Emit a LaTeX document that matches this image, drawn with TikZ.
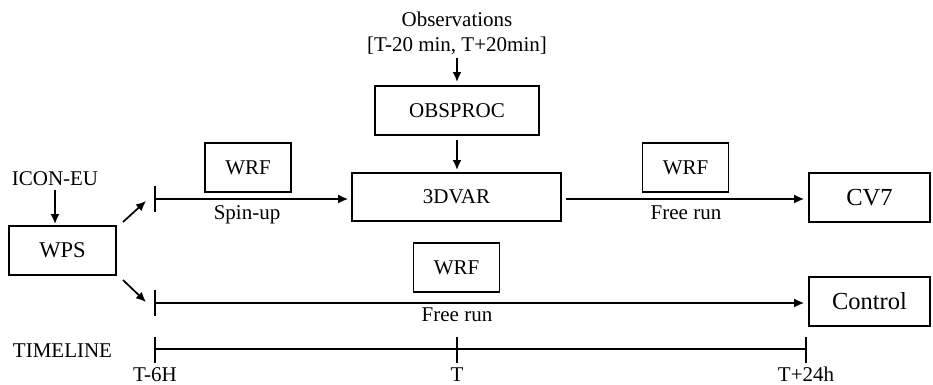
\documentclass[tikz,border=0pt]{standalone}
\usepackage{fontspec}
\setmainfont{Liberation Serif}
\usetikzlibrary{arrows.meta}
\tikzset{
  box/.style={draw, line width=1.7pt, inner sep=0pt, font=\fontsize{21}{25}\selectfont},
  bigbox/.style={box, font=\fontsize{24.5}{28}\selectfont},
  lbl/.style={inner sep=0pt, font=\fontsize{21}{25}\selectfont},
  flow/.style={-{Latex[length=10pt,width=9pt]}, line width=1.7pt},
  tick/.style={line width=1.7pt}
}
\begin{document}
\begin{tikzpicture}[x=1pt,y=-1pt]
\useasboundingbox (0,0) rectangle (933,384);

% inputs and preprocessing
\node[lbl] (icon) at (55,179) {ICON-EU};
\node[box, font=\fontsize{22.5}{26}\selectfont, minimum width=107pt, minimum height=49pt] (wps) at (62.5,250.5) {WPS};
\node[lbl, align=center] (obs) at (457,33) {Observations\\{}[T-20 min, T+20min]};
\node[box, minimum width=164pt, minimum height=49pt] (obsproc) at (457,110.5) {OBSPROC};
\node[box, minimum width=209pt, minimum height=48pt] (var) at (456.5,197) {3DVAR};

% model runs
\node[box, minimum width=86pt, minimum height=49pt] (wrfa) at (248,167.5) {WRF};
\node[box, minimum width=86pt, minimum height=49pt] (wrfb) at (685.5,167.5) {WRF};
\node[box, minimum width=86pt, minimum height=49pt] (wrfc) at (456.5,267.5) {WRF};
\node[bigbox, minimum width=121pt, minimum height=49pt] (cv) at (869.5,197.5) {CV7};
\node[bigbox, minimum width=121pt, minimum height=49pt] (ctrl) at (869.5,301.5) {Control};

\node[lbl, anchor=base] (spin) at (247,219) {Spin-up};
\node[lbl, anchor=base] (freea) at (686,219) {Free run};
\node[lbl, anchor=base] (freeb) at (457,321) {Free run};

% start markers of the two branches
\coordinate (sa) at (155,199);
\coordinate (sb) at (155,303);
\draw[tick] (155,186) -- (155,212);
\draw[tick] (155,290) -- (155,316);
\coordinate (da0) at (123,222);
\coordinate (da1) at (146,201);
\coordinate (db0) at (123,280);
\coordinate (db1) at (146,302);

% connectors
\draw[flow] (icon.south) ++(0,4) -- (55,224);
\draw[flow] (da0) -- (da1);
\draw[flow] (db0) -- (db1);
\draw[flow] (obs.south) ++(0,3) -- (457,82);
\draw[flow] (obsproc.south) ++(0,4) -- (457,170);
\draw[flow, shorten >=3pt] (sa) -- (var.west |- sa);
\draw[flow, shorten <=4pt, shorten >=4pt] (var.east |- sa) -- (cv.west |- sa);
\draw[flow, shorten >=4pt] (sb) -- (ctrl.west |- sb);

% timeline
\node[lbl] (tl) at (62.5,350.5) {TIMELINE};
\coordinate (t0) at (155,349);
\coordinate (t1) at (457,349);
\coordinate (t2) at (806,349);
\draw[tick] (t0) -- (t2);
\foreach \c in {t0,t1,t2} \draw[tick] (\c) ++(0,-12) -- ++(0,26);
\node[lbl, anchor=base] (l0) at (155,381) {T-6H};
\node[lbl, anchor=base] (l1) at (457,381) {T};
\node[lbl, anchor=base] (l2) at (806,381) {T+24h};
\end{tikzpicture}
\end{document}
